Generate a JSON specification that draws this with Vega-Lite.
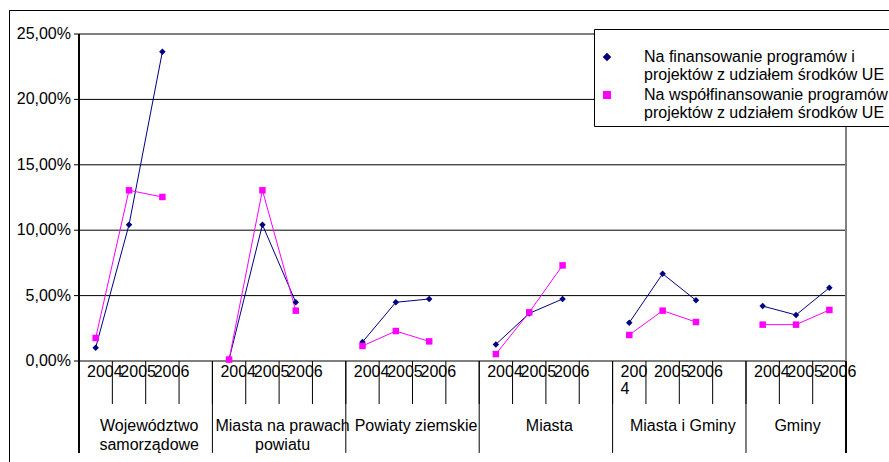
{
  "$schema": "https://vega.github.io/schema/vega-lite/v6.json",
  "width": 880,
  "height": 452,
  "autosize": {"type": "none"},
  "padding": {"left": 9, "top": 10, "right": 0, "bottom": 0},
  "background": "white",
  "config": {
    "font": "Liberation Sans",
    "view": {"stroke": "black", "strokeWidth": 1, "strokeDash": [880, 1332, 452]}
  },
  "datasets": {
    "points": [
      {"grp": "Województwo samorządowe", "cat": "1|2004", "series": "Na finansowanie programów i projektów z udziałem środków UE", "value": 0.0102},
      {"grp": "Województwo samorządowe", "cat": "1|2005", "series": "Na finansowanie programów i projektów z udziałem środków UE", "value": 0.1042},
      {"grp": "Województwo samorządowe", "cat": "1|2006", "series": "Na finansowanie programów i projektów z udziałem środków UE", "value": 0.2365},
      {"grp": "Miasta na prawach powiatu", "cat": "2|2004", "series": "Na finansowanie programów i projektów z udziałem środków UE", "value": 0.0012},
      {"grp": "Miasta na prawach powiatu", "cat": "2|2005", "series": "Na finansowanie programów i projektów z udziałem środków UE", "value": 0.1042},
      {"grp": "Miasta na prawach powiatu", "cat": "2|2006", "series": "Na finansowanie programów i projektów z udziałem środków UE", "value": 0.0449},
      {"grp": "Powiaty ziemskie", "cat": "3|2004", "series": "Na finansowanie programów i projektów z udziałem środków UE", "value": 0.0145},
      {"grp": "Powiaty ziemskie", "cat": "3|2005", "series": "Na finansowanie programów i projektów z udziałem środków UE", "value": 0.0449},
      {"grp": "Powiaty ziemskie", "cat": "3|2006", "series": "Na finansowanie programów i projektów z udziałem środków UE", "value": 0.0474},
      {"grp": "Miasta", "cat": "4|2004", "series": "Na finansowanie programów i projektów z udziałem środków UE", "value": 0.0127},
      {"grp": "Miasta", "cat": "4|2005", "series": "Na finansowanie programów i projektów z udziałem środków UE", "value": 0.0364},
      {"grp": "Miasta", "cat": "4|2006", "series": "Na finansowanie programów i projektów z udziałem środków UE", "value": 0.0474},
      {"grp": "Miasta i Gminy", "cat": "5|2004", "series": "Na finansowanie programów i projektów z udziałem środków UE", "value": 0.0293},
      {"grp": "Miasta i Gminy", "cat": "5|2005", "series": "Na finansowanie programów i projektów z udziałem środków UE", "value": 0.0667},
      {"grp": "Miasta i Gminy", "cat": "5|2006", "series": "Na finansowanie programów i projektów z udziałem środków UE", "value": 0.0464},
      {"grp": "Gminy", "cat": "6|2004", "series": "Na finansowanie programów i projektów z udziałem środków UE", "value": 0.0420},
      {"grp": "Gminy", "cat": "6|2005", "series": "Na finansowanie programów i projektów z udziałem środków UE", "value": 0.0352},
      {"grp": "Gminy", "cat": "6|2006", "series": "Na finansowanie programów i projektów z udziałem środków UE", "value": 0.0560},
      {"grp": "Województwo samorządowe", "cat": "1|2004", "series": "Na współfinansowanie programów i projektów z udziałem środków UE", "value": 0.0176},
      {"grp": "Województwo samorządowe", "cat": "1|2005", "series": "Na współfinansowanie programów i projektów z udziałem środków UE", "value": 0.1305},
      {"grp": "Województwo samorządowe", "cat": "1|2006", "series": "Na współfinansowanie programów i projektów z udziałem środków UE", "value": 0.1254},
      {"grp": "Miasta na prawach powiatu", "cat": "2|2004", "series": "Na współfinansowanie programów i projektów z udziałem środków UE", "value": 0.0011},
      {"grp": "Miasta na prawach powiatu", "cat": "2|2005", "series": "Na współfinansowanie programów i projektów z udziałem środków UE", "value": 0.1305},
      {"grp": "Miasta na prawach powiatu", "cat": "2|2006", "series": "Na współfinansowanie programów i projektów z udziałem środków UE", "value": 0.0385},
      {"grp": "Powiaty ziemskie", "cat": "3|2004", "series": "Na współfinansowanie programów i projektów z udziałem środków UE", "value": 0.0115},
      {"grp": "Powiaty ziemskie", "cat": "3|2005", "series": "Na współfinansowanie programów i projektów z udziałem środków UE", "value": 0.0229},
      {"grp": "Powiaty ziemskie", "cat": "3|2006", "series": "Na współfinansowanie programów i projektów z udziałem środków UE", "value": 0.0150},
      {"grp": "Miasta", "cat": "4|2004", "series": "Na współfinansowanie programów i projektów z udziałem środków UE", "value": 0.0053},
      {"grp": "Miasta", "cat": "4|2005", "series": "Na współfinansowanie programów i projektów z udziałem środków UE", "value": 0.0372},
      {"grp": "Miasta", "cat": "4|2006", "series": "Na współfinansowanie programów i projektów z udziałem środków UE", "value": 0.0731},
      {"grp": "Miasta i Gminy", "cat": "5|2004", "series": "Na współfinansowanie programów i projektów z udziałem środków UE", "value": 0.0199},
      {"grp": "Miasta i Gminy", "cat": "5|2005", "series": "Na współfinansowanie programów i projektów z udziałem środków UE", "value": 0.0385},
      {"grp": "Miasta i Gminy", "cat": "5|2006", "series": "Na współfinansowanie programów i projektów z udziałem środków UE", "value": 0.0298},
      {"grp": "Gminy", "cat": "6|2004", "series": "Na współfinansowanie programów i projektów z udziałem środków UE", "value": 0.0278},
      {"grp": "Gminy", "cat": "6|2005", "series": "Na współfinansowanie programów i projektów z udziałem środków UE", "value": 0.0278},
      {"grp": "Gminy", "cat": "6|2006", "series": "Na współfinansowanie programów i projektów z udziałem środków UE", "value": 0.0390}
    ],
    "grid": [{"v": 0, "label": "0,00%"}, {"v": 0.05, "label": "5,00%"}, {"v": 0.1, "label": "10,00%"}, {"v": 0.15, "label": "15,00%"}, {"v": 0.2, "label": "20,00%"}, {"v": 0.25, "label": "25,00%"}],
    "seps": [{"cat": "2|2004"}, {"cat": "3|2004"}, {"cat": "4|2004"}, {"cat": "5|2004"}, {"cat": "6|2004"}],
    "cats": [
      {"cat": "1|2004"}, {"cat": "1|2005"}, {"cat": "1|2006"}, {"cat": "1|_"},
      {"cat": "2|2004"}, {"cat": "2|2005"}, {"cat": "2|2006"}, {"cat": "2|_"},
      {"cat": "3|2004"}, {"cat": "3|2005"}, {"cat": "3|2006"}, {"cat": "3|_"},
      {"cat": "4|2004"}, {"cat": "4|2005"}, {"cat": "4|2006"}, {"cat": "4|_"},
      {"cat": "5|2004"}, {"cat": "5|2005"}, {"cat": "5|2006"}, {"cat": "5|_"},
      {"cat": "6|2004"}, {"cat": "6|2005"}
    ],
    "years": [
      {"cat": "1|2004", "label": "2004"}, {"cat": "1|2005", "label": "2005"}, {"cat": "1|2006", "label": "2006"},
      {"cat": "2|2004", "label": "2004"}, {"cat": "2|2005", "label": "2005"}, {"cat": "2|2006", "label": "2006"},
      {"cat": "3|2004", "label": "2004"}, {"cat": "3|2005", "label": "2005"}, {"cat": "3|2006", "label": "2006"},
      {"cat": "4|2004", "label": "2004"}, {"cat": "4|2005", "label": "2005"}, {"cat": "4|2006", "label": "2006"},
      {"cat": "5|2004", "label": "200\n4"}, {"cat": "5|2005", "label": "2005"}, {"cat": "5|2006", "label": "2006"},
      {"cat": "6|2004", "label": "2004"}, {"cat": "6|2005", "label": "2005"}, {"cat": "6|2006", "label": "2006"}
    ],
    "groups": [
      {"cat": "1|2005", "label": "Województwo\nsamorządowe"},
      {"cat": "2|2005", "label": "Miasta na prawach\npowiatu"},
      {"cat": "3|2005", "label": "Powiaty ziemskie"},
      {"cat": "4|2005", "label": "Miasta"},
      {"cat": "5|2005", "label": "Miasta i Gminy"}
    ],
    "lastgroup": [{"cat": "6|2005", "label": "Gminy"}]
  },
  "layer": [
    {
      "data": {"name": "grid"},
      "mark": {"type": "rule", "color": "black", "strokeWidth": 1},
      "encoding": {
        "y": {"field": "v", "type": "quantitative", "axis": null, "scale": {"domain": [-0.077217, 0.268349], "nice": false, "zero": false}},
        "x": {"datum": "1|2004", "type": "nominal", "bandPosition": 0, "axis": null, "scale": {"type": "band", "domain": ["0|a","0|b","1|2004","1|2005","1|2006","1|_","2|2004","2|2005","2|2006","2|_","3|2004","3|2005","3|2006","3|_","4|2004","4|2005","4|2006","4|_","5|2004","5|2005","5|2006","5|_","6|2004","6|2005","6|2006","7|z"], "paddingInner": 0, "paddingOuter": 0.1934, "align": 0.2558}},
        "x2": {"datum": "6|2006", "bandPosition": 1}
      }
    },
    {
      "data": {"name": "grid"},
      "mark": {"type": "rule", "color": "black", "strokeWidth": 1},
      "encoding": {
        "y": {"field": "v", "type": "quantitative", "axis": null, "scale": {"domain": [-0.077217, 0.268349], "nice": false, "zero": false}},
        "x": {"datum": "0|b", "type": "nominal", "bandPosition": 0.85, "axis": null, "scale": {"type": "band", "domain": ["0|a","0|b","1|2004","1|2005","1|2006","1|_","2|2004","2|2005","2|2006","2|_","3|2004","3|2005","3|2006","3|_","4|2004","4|2005","4|2006","4|_","5|2004","5|2005","5|2006","5|_","6|2004","6|2005","6|2006","7|z"], "paddingInner": 0, "paddingOuter": 0.1934, "align": 0.2558}},
        "x2": {"datum": "1|2004", "bandPosition": 0}
      }
    },
    {
      "data": {"name": "grid"},
      "mark": {"type": "text", "align": "right", "baseline": "middle", "fontSize": 16, "font": "Liberation Sans", "color": "black"},
      "encoding": {
        "y": {"field": "v", "type": "quantitative", "axis": null, "scale": {"domain": [-0.077217, 0.268349], "nice": false, "zero": false}},
        "x": {"datum": "0|b", "type": "nominal", "bandPosition": 0.76, "axis": null, "scale": {"type": "band", "domain": ["0|a","0|b","1|2004","1|2005","1|2006","1|_","2|2004","2|2005","2|2006","2|_","3|2004","3|2005","3|2006","3|_","4|2004","4|2005","4|2006","4|_","5|2004","5|2005","5|2006","5|_","6|2004","6|2005","6|2006","7|z"], "paddingInner": 0, "paddingOuter": 0.1934, "align": 0.2558}},
        "text": {"field": "label", "type": "nominal"}
      }
    },
    {
      "data": {"name": "grid"},
      "mark": {"type": "rule", "color": "#808080", "strokeWidth": 1},
      "encoding": {
        "x": {"datum": "6|2006", "type": "nominal", "bandPosition": 1, "axis": null, "scale": {"type": "band", "domain": ["0|a","0|b","1|2004","1|2005","1|2006","1|_","2|2004","2|2005","2|2006","2|_","3|2004","3|2005","3|2006","3|_","4|2004","4|2005","4|2006","4|_","5|2004","5|2005","5|2006","5|_","6|2004","6|2005","6|2006","7|z"], "paddingInner": 0, "paddingOuter": 0.1934, "align": 0.2558}},
        "y": {"datum": 0, "type": "quantitative", "axis": null, "scale": {"domain": [-0.077217, 0.268349], "nice": false, "zero": false}},
        "y2": {"datum": 0.25}
      }
    },
    {
      "data": {"name": "grid"},
      "mark": {"type": "rule", "color": "black", "strokeWidth": 1},
      "encoding": {
        "x": {"datum": "1|2004", "type": "nominal", "bandPosition": 0, "axis": null, "scale": {"type": "band", "domain": ["0|a","0|b","1|2004","1|2005","1|2006","1|_","2|2004","2|2005","2|2006","2|_","3|2004","3|2005","3|2006","3|_","4|2004","4|2005","4|2006","4|_","5|2004","5|2005","5|2006","5|_","6|2004","6|2005","6|2006","7|z"], "paddingInner": 0, "paddingOuter": 0.1934, "align": 0.2558}},
        "y": {"datum": 0.25, "type": "quantitative", "axis": null, "scale": {"domain": [-0.077217, 0.268349], "nice": false, "zero": false}},
        "y2": {"datum": -0.0703}
      }
    },
    {
      "data": {"name": "grid"},
      "mark": {"type": "rule", "color": "black", "strokeWidth": 1},
      "encoding": {
        "x": {"datum": "6|2006", "type": "nominal", "bandPosition": 1, "axis": null, "scale": {"type": "band", "domain": ["0|a","0|b","1|2004","1|2005","1|2006","1|_","2|2004","2|2005","2|2006","2|_","3|2004","3|2005","3|2006","3|_","4|2004","4|2005","4|2006","4|_","5|2004","5|2005","5|2006","5|_","6|2004","6|2005","6|2006","7|z"], "paddingInner": 0, "paddingOuter": 0.1934, "align": 0.2558}},
        "y": {"datum": 0, "type": "quantitative", "axis": null, "scale": {"domain": [-0.077217, 0.268349], "nice": false, "zero": false}},
        "y2": {"datum": -0.0703}
      }
    },
    {
      "data": {"name": "seps"},
      "mark": {"type": "rule", "color": "black", "strokeWidth": 1},
      "encoding": {
        "x": {"field": "cat", "type": "nominal", "bandPosition": 0, "axis": null, "scale": {"type": "band", "domain": ["0|a","0|b","1|2004","1|2005","1|2006","1|_","2|2004","2|2005","2|2006","2|_","3|2004","3|2005","3|2006","3|_","4|2004","4|2005","4|2006","4|_","5|2004","5|2005","5|2006","5|_","6|2004","6|2005","6|2006","7|z"], "paddingInner": 0, "paddingOuter": 0.1934, "align": 0.2558}},
        "y": {"datum": 0, "type": "quantitative", "axis": null, "scale": {"domain": [-0.077217, 0.268349], "nice": false, "zero": false}},
        "y2": {"datum": -0.0703}
      }
    },
    {
      "data": {"name": "cats"},
      "mark": {"type": "rule", "color": "black", "strokeWidth": 1},
      "encoding": {
        "x": {"field": "cat", "type": "nominal", "bandPosition": 1, "axis": null, "scale": {"type": "band", "domain": ["0|a","0|b","1|2004","1|2005","1|2006","1|_","2|2004","2|2005","2|2006","2|_","3|2004","3|2005","3|2006","3|_","4|2004","4|2005","4|2006","4|_","5|2004","5|2005","5|2006","5|_","6|2004","6|2005","6|2006","7|z"], "paddingInner": 0, "paddingOuter": 0.1934, "align": 0.2558}},
        "y": {"datum": 0, "type": "quantitative", "axis": null, "scale": {"domain": [-0.077217, 0.268349], "nice": false, "zero": false}},
        "y2": {"datum": -0.0329}
      }
    },
    {
      "data": {"name": "years"},
      "mark": {"type": "text", "align": "left", "baseline": "top", "fontSize": 16, "font": "Liberation Sans", "color": "black", "lineBreak": "\n", "lineHeight": 17, "dx": 8},
      "encoding": {
        "x": {"field": "cat", "type": "nominal", "bandPosition": 0, "axis": null, "scale": {"type": "band", "domain": ["0|a","0|b","1|2004","1|2005","1|2006","1|_","2|2004","2|2005","2|2006","2|_","3|2004","3|2005","3|2006","3|_","4|2004","4|2005","4|2006","4|_","5|2004","5|2005","5|2006","5|_","6|2004","6|2005","6|2006","7|z"], "paddingInner": 0, "paddingOuter": 0.1934, "align": 0.2558}},
        "y": {"datum": -0.0023, "type": "quantitative", "axis": null, "scale": {"domain": [-0.077217, 0.268349], "nice": false, "zero": false}},
        "text": {"field": "label", "type": "nominal"}
      }
    },
    {
      "data": {"name": "points"},
      "mark": {"type": "line", "strokeWidth": 1},
      "encoding": {
        "x": {"field": "cat", "type": "nominal", "axis": null, "scale": {"type": "band", "domain": ["0|a","0|b","1|2004","1|2005","1|2006","1|_","2|2004","2|2005","2|2006","2|_","3|2004","3|2005","3|2006","3|_","4|2004","4|2005","4|2006","4|_","5|2004","5|2005","5|2006","5|_","6|2004","6|2005","6|2006","7|z"], "paddingInner": 0, "paddingOuter": 0.1934, "align": 0.2558}},
        "y": {"field": "value", "type": "quantitative", "axis": null, "scale": {"domain": [-0.077217, 0.268349], "nice": false, "zero": false}},
        "color": {
          "field": "series", "type": "nominal",
          "scale": {"domain": ["Na finansowanie programów i projektów z udziałem środków UE", "Na współfinansowanie programów i projektów z udziałem środków UE"], "range": ["#000080", "#ff00ff"]},
          "legend": {
            "orient": "none", "legendX": 585, "legendY": 19, "title": " ", "titleFontSize": 8, "titlePadding": 7,
            "strokeColor": "black", "fillColor": "white", "padding": 5,
            "labelFont": "Liberation Sans", "labelFontSize": 16, "labelColor": "black", "labelLimit": 500,
            "symbolSize": 42, "labelOffset": 29, "rowPadding": 4,
            "labelExpr": "[slice(datum.label, 0, indexof(datum.label, ' projektów')), slice(datum.label, indexof(datum.label, ' projektów') + 1)]"
          }
        },
        "detail": {"field": "grp", "type": "nominal"}
      }
    },
    {
      "data": {"name": "points"},
      "mark": {"type": "point", "filled": true, "opacity": 1, "size": 42},
      "encoding": {
        "x": {"field": "cat", "type": "nominal", "axis": null, "scale": {"type": "band", "domain": ["0|a","0|b","1|2004","1|2005","1|2006","1|_","2|2004","2|2005","2|2006","2|_","3|2004","3|2005","3|2006","3|_","4|2004","4|2005","4|2006","4|_","5|2004","5|2005","5|2006","5|_","6|2004","6|2005","6|2006","7|z"], "paddingInner": 0, "paddingOuter": 0.1934, "align": 0.2558}},
        "y": {"field": "value", "type": "quantitative", "axis": null, "scale": {"domain": [-0.077217, 0.268349], "nice": false, "zero": false}},
        "color": {"field": "series", "type": "nominal"},
        "shape": {"field": "series", "type": "nominal", "scale": {"domain": ["Na finansowanie programów i projektów z udziałem środków UE", "Na współfinansowanie programów i projektów z udziałem środków UE"], "range": ["diamond", "square"]}, "legend": null}
      }
    },
    {
      "data": {"name": "groups"},
      "mark": {"type": "text", "align": "center", "baseline": "alphabetic", "fontSize": 16, "font": "Liberation Sans", "color": "black", "lineBreak": "\n", "lineHeight": 19.5, "dx": 3.5},
      "encoding": {
        "x": {"field": "cat", "type": "nominal", "bandPosition": 1, "axis": null, "scale": {"type": "band", "domain": ["0|a","0|b","1|2004","1|2005","1|2006","1|_","2|2004","2|2005","2|2006","2|_","3|2004","3|2005","3|2006","3|_","4|2004","4|2005","4|2006","4|_","5|2004","5|2005","5|2006","5|_","6|2004","6|2005","6|2006","7|z"], "paddingInner": 0, "paddingOuter": 0.1934, "align": 0.2558}},
        "y": {"datum": -0.0533, "type": "quantitative", "axis": null, "scale": {"domain": [-0.077217, 0.268349], "nice": false, "zero": false}},
        "text": {"field": "label", "type": "nominal"}
      }
    },
    {
      "data": {"name": "lastgroup"},
      "mark": {"type": "text", "align": "center", "baseline": "alphabetic", "fontSize": 16, "font": "Liberation Sans", "color": "black", "dx": 1.5},
      "encoding": {
        "x": {"field": "cat", "type": "nominal", "bandPosition": 0.5, "axis": null, "scale": {"type": "band", "domain": ["0|a","0|b","1|2004","1|2005","1|2006","1|_","2|2004","2|2005","2|2006","2|_","3|2004","3|2005","3|2006","3|_","4|2004","4|2005","4|2006","4|_","5|2004","5|2005","5|2006","5|_","6|2004","6|2005","6|2006","7|z"], "paddingInner": 0, "paddingOuter": 0.1934, "align": 0.2558}},
        "y": {"datum": -0.0533, "type": "quantitative", "axis": null, "scale": {"domain": [-0.077217, 0.268349], "nice": false, "zero": false}},
        "text": {"field": "label", "type": "nominal"}
      }
    }
  ]
}
